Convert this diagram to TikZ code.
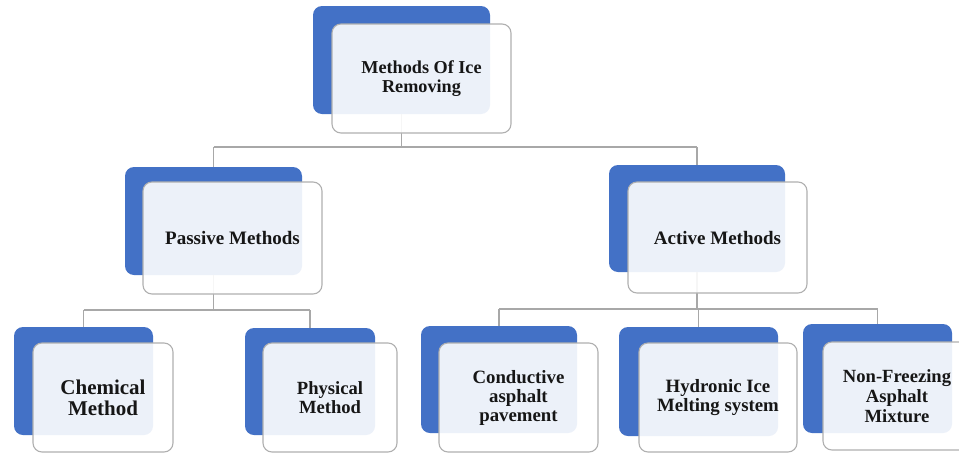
\documentclass[tikz,border=0pt]{standalone}
\usepackage{fontspec}
\setmainfont{Liberation Serif}
\definecolor{boxblue}{HTML}{4371C6}
\definecolor{edgegray}{HTML}{B0B0B0}
\definecolor{linegray}{HTML}{A8A8A8}
\definecolor{txt}{HTML}{161616}
\tikzset{
  backbox/.style={fill=boxblue, draw=none, rounded corners=9pt, inner sep=0pt},
  frontbox/.style={fill=white, fill opacity=0.9, text opacity=1, draw=edgegray,
    line width=1.1pt, rounded corners=9pt, inner sep=0pt, align=center, text=txt},
  conn/.style={draw=linegray, line width=1.3pt},
}
\newcommand{\fsz}[2]{\fontsize{#1}{#2}\selectfont\bfseries}
\begin{document}
\begin{tikzpicture}[x=1pt,y=-1pt]
\useasboundingbox (0,0) rectangle (959,453);
\clip (0,0) rectangle (959,453);
\fill[white] (0,0) rectangle (959,453);

% bus coordinates
\coordinate (bus1) at (0,147);
\coordinate (bus2) at (0,310);
\coordinate (bus3) at (0,309);

% back (blue) boxes
\node[backbox, minimum width=177pt, minimum height=108pt] (topB) at (401.5,60) {};
\node[backbox, minimum width=177pt, minimum height=108pt] (passB) at (213.5,221) {};
\node[backbox, minimum width=176pt, minimum height=107pt] (actB) at (697,218.5) {};
\node[backbox, minimum width=139pt, minimum height=108pt] (chemB) at (83.5,381) {};
\node[backbox, minimum width=130pt, minimum height=107pt] (physB) at (310,381.5) {};
\node[backbox, minimum width=156pt, minimum height=107pt] (condB) at (499,379.5) {};
\node[backbox, minimum width=159pt, minimum height=109pt] (hydB) at (698.5,381.5) {};
\node[backbox, minimum width=149pt, minimum height=109pt] (nonB) at (877.5,378.5) {};

% connectors (under the front boxes)
\draw[conn] (topB.south) -- (topB.south |- bus1);
\draw[conn] (passB.north |- bus1) -- (actB.north |- bus1);
\draw[conn] (passB.north |- bus1) -- (passB.north);
\draw[conn] (actB.north |- bus1) -- (actB.north);
\draw[conn] (passB.south) -- (passB.south |- bus2);
\draw[conn] (chemB.north |- bus2) -- (physB.north |- bus2);
\draw[conn] (chemB.north |- bus2) -- (chemB.north);
\draw[conn] (physB.north |- bus2) -- (physB.north);
\draw[conn] (actB.south) -- (actB.south |- bus3);
\draw[conn] (condB.north |- bus3) -- (nonB.north |- bus3);
\draw[conn] (condB.north |- bus3) -- (condB.north);
\draw[conn] (hydB.north |- bus3) -- (hydB.north);
\draw[conn] (nonB.north |- bus3) -- (nonB.north);

% front boxes
\node[frontbox, minimum width=179pt, minimum height=109pt, font=\fsz{18.2}{18.5}] (top) at (421.5,78.5) {Methods Of Ice\\Removing};
\node[frontbox, minimum width=179pt, minimum height=112pt, font=\fsz{19}{20}] (pass) at (232.5,238) {Passive Methods};
\node[frontbox, minimum width=179pt, minimum height=111pt, font=\fsz{19}{20}] (act) at (717.5,237.5) {Active Methods};
\node[frontbox, minimum width=140pt, minimum height=109pt, font=\fsz{21}{21}] (chem) at (103,397.5) {Chemical\\Method};
\node[frontbox, minimum width=134pt, minimum height=109pt, font=\fsz{18.6}{19.5}] (phys) at (330,397.5) {Physical\\Method};
\node[frontbox, minimum width=159pt, minimum height=109pt, font=\fsz{18.8}{19}] (cond) at (518.5,397.5) {Conductive\\asphalt\\pavement};
\node[frontbox, minimum width=158pt, minimum height=109pt, font=\fsz{18.8}{19}] (hyd) at (718,397.5) {Hydronic Ice\\Melting system};
\node[frontbox, minimum width=148pt, minimum height=108pt, font=\fsz{18.6}{20}] (non) at (897,396) {Non-Freezing\\Asphalt\\Mixture};
\end{tikzpicture}
\end{document}
